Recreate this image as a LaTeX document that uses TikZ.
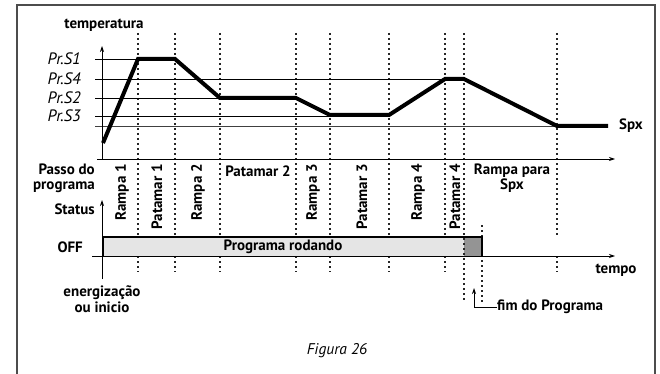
\documentclass[tikz,border=0pt]{standalone}
\usepackage{fontspec}
\setmainfont{PT Sans}
\usetikzlibrary{arrows.meta}
\tikzset{
  lbl/.style={font=\bfseries\fontsize{15}{15}\selectfont, inner sep=0pt},
  vlbl/.style={lbl, rotate=90, anchor=east},
  prl/.style={font=\itshape\fontsize{16.5}{17}\selectfont, inner sep=0pt, anchor=east},
  ref/.style={line width=0.8pt, black},
  axis/.style={line width=0.8pt, -{Stealth[length=6pt,width=4pt]}},
  prof/.style={line width=4pt, line join=miter},
  dotl/.style={line width=1.1pt, dash pattern=on 2pt off 3pt, black!85},
}
\begin{document}
\begin{tikzpicture}[x=1pt,y=-1pt]
\useasboundingbox (0,0) rectangle (660,374);
% frame
\draw[line width=1.2pt, black!70] (17,376) -- (17,5) -- (655,5) -- (655,376);

% status bar
\fill[black!10] (102,237) rectangle (464,256);
\fill[black!42] (464,237) rectangle (482,256);

% dotted lines
\foreach \x in {138,175,220,296,330,389,445,557} {
  \draw[dotl] (\x,33) -- (\x,237);
  \draw[dotl] (\x,256) -- (\x,272);
}
\draw[dotl] (464,33) -- (464,302);
\draw[dotl] (482,225) -- (482,303);

% reference lines
\draw[ref] (95,59) -- (138,59);
\draw[ref] (95,79) -- (445,79);
\draw[ref] (95,98) -- (220,98);
\draw[ref] (95,116) -- (330,116);
\draw[ref, black!75] (95,126) -- (557,126);

% axes
\draw[axis] (102,159) -- (102,46);
\draw[axis] (97,159) -- (615,159);
\draw[axis] (102,279) -- (102,200);
\draw[axis] (92,256) -- (615,256);

% bar border
\draw[line width=2pt] (103,256) -- (103,237) -- (482,237) -- (482,256);

% profile
\draw[prof] (103,143) -- (138,59) -- (175,59) -- (220,98) -- (296,98) -- (330,115) -- (389,115) -- (445,79) -- (464,79) -- (557,126) -- (608,126);

% labels
\node[lbl] (temp) at (104,25) {temperatura};
\node[prl] (p1) at (81,59) {Pr.S1};
\node[prl] (p4) at (81,79) {Pr.S4};
\node[prl] (p2) at (81,98) {Pr.S2};
\node[prl] (p3) at (81,116) {Pr.S3};
\node[lbl, anchor=west] (spx) at (619,126) {Spx};

\node[lbl, anchor=north east, align=right] (passo) at (95,164) {Passo do\\programa};
\node[lbl, anchor=east] (status) at (95,209) {Status};
\node[lbl, anchor=east] (off) at (83,247) {OFF};

\node[vlbl] (r1) at (122,164) {Rampa 1};
\node[vlbl] (pt1) at (157,164) {Patamar 1};
\node[vlbl] (r2) at (198,164) {Rampa 2};
\node[lbl] (pt2) at (258,171) {Patamar 2};
\node[vlbl] (r3) at (313,164) {Rampa 3};
\node[vlbl] (pt3) at (362,164) {Patamar 3};
\node[vlbl] (r4) at (418,164) {Rampa 4};
\node[vlbl] (pt4) at (455,164) {Patamar 4};
\node[lbl, align=center, anchor=north] (rspx) at (512,164) {Rampa para\\Spx};

\node[lbl] (prog) at (283,247) {Programa rodando};
\node[lbl] (tempo) at (616,270) {tempo};
\node[lbl, align=center, anchor=north, font=\bfseries\fontsize{15}{16.5}\selectfont] (ener) at (102,285) {energização\\ou inicio};

\node[lbl, anchor=west] (fim) at (497,307) {fim do Programa};
\coordinate (fimtip) at (474,288);
\draw[line width=0.8pt, -{Stealth[length=6pt,width=4pt]}] (fim.west) -| (fimtip);

\node[font=\itshape\fontsize{15.5}{16}\selectfont, inner sep=0pt] (fig) at (337,351) {Figura 26};
\end{tikzpicture}
\end{document}
